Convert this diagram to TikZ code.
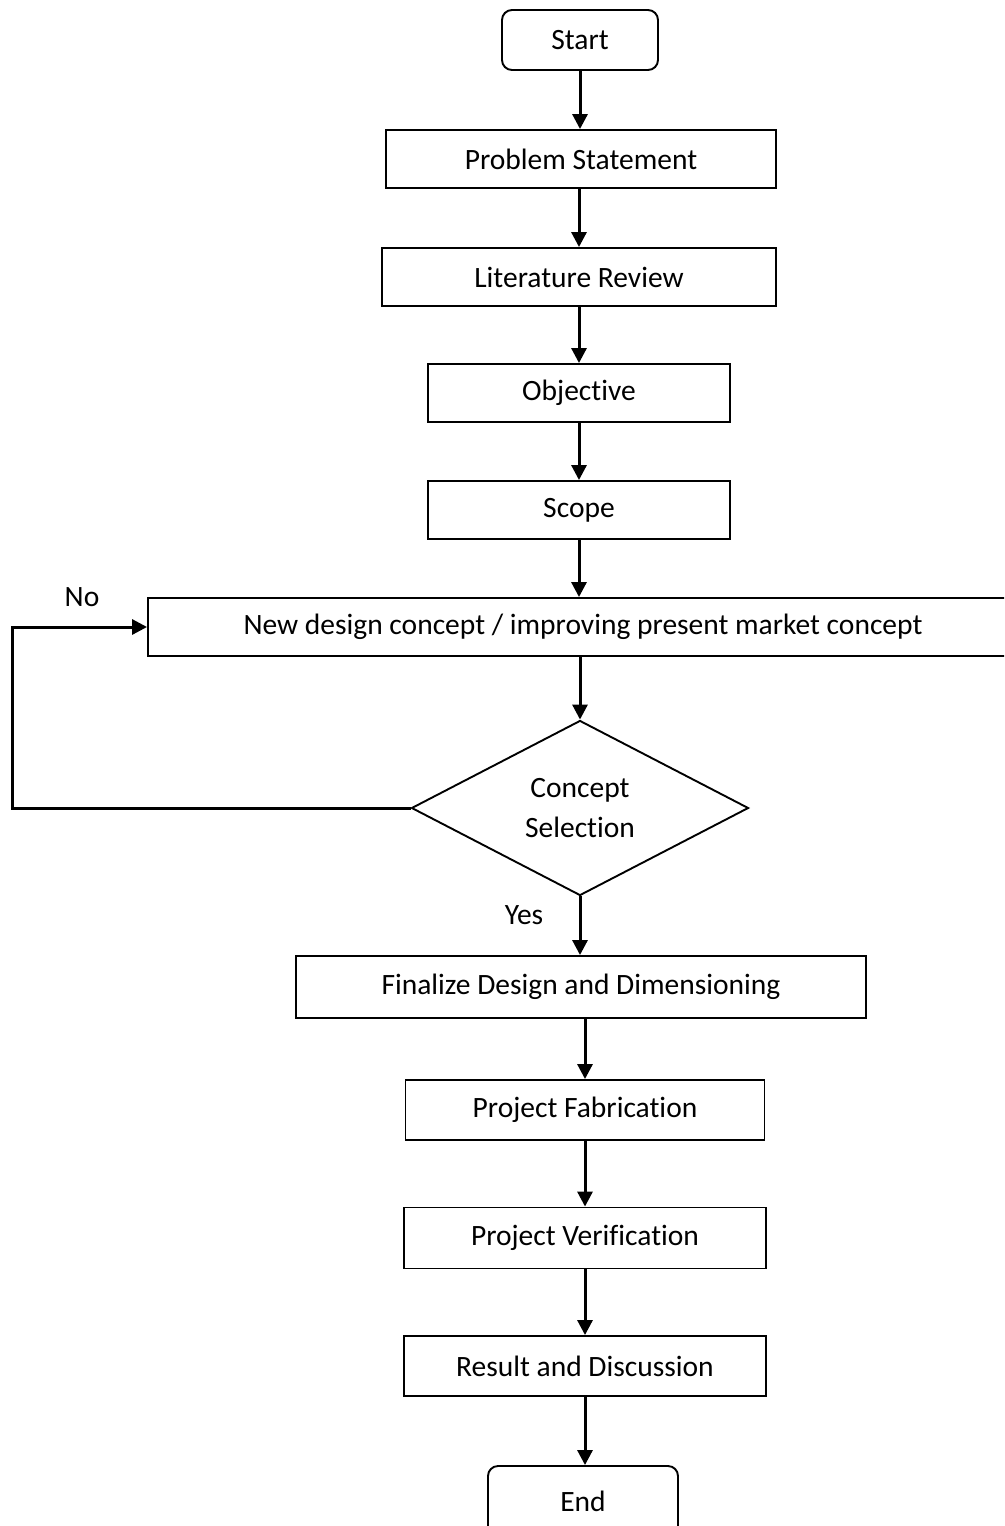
\documentclass[tikz,border=0pt]{standalone}
\usepackage{fontspec}
\setmainfont{Carlito}[Ligatures=NoCommon]
\usetikzlibrary{shapes.geometric,arrows.meta}

\begin{document}
\begin{tikzpicture}[x=1pt,y=-1pt,
  every node/.style={font=\fontsize{29.5}{40}\selectfont},
  box/.style={draw,line width=1.9pt,minimum height=58pt,inner sep=0pt},
  term/.style={box,rounded corners=10pt},
  decide/.style={draw,line width=1.9pt,diamond,aspect=1.93,minimum width=337pt,
    minimum height=175pt,inner sep=0pt,align=center},
  flow/.style={line width=3pt,-{Triangle[length=15pt,width=15pt]}}]
\useasboundingbox (0,0) rectangle (1004,1526);
\clip (0,0) rectangle (1004,1526);
% main column
\node[term,minimum width=156pt,minimum height=60pt] (start) at (580,40) {Start};
\node[box,minimum width=390pt] (prob) at (581,159) {Problem Statement};
\node[box,minimum width=394pt] (lit) at (579,277) {Literature Review};
\node[box,minimum width=302pt] (obj) at (579,393) {Objective};
\node[box,minimum width=302pt] (scope) at (579,510) {Scope};
\node[box,minimum width=870pt] (concept) at (583,627) {New design concept / improving present market concept};
\node[decide] (sel) at (580,808) {Concept\\Selection};
\node[box,minimum width=570pt,minimum height=62pt] (final) at (581,987) {Finalize Design and Dimensioning};
\node[box,minimum width=359pt,minimum height=60pt] (fab) at (585,1110) {Project Fabrication};
\node[box,minimum width=362pt,minimum height=61pt] (verif) at (585,1238) {Project Verification};
\node[box,minimum width=362pt,minimum height=60pt] (result) at (585,1366) {Result and Discussion};
\node[term,minimum width=190pt,minimum height=70pt] (end) at (583,1501) {End};
% labels
\node (no) at (82,597) {No};
\node (yes) at (524,915) {Yes};
% connectors
\draw[flow] (start.south) -- (start.south |- prob.north);
\draw[flow] (lit.north |- prob.south) -- (lit.north);
\draw[flow] (lit.south) -- (lit.south |- obj.north);
\draw[flow] (obj.south) -- (scope.north);
\draw[flow] (scope.south) -- (scope.south |- concept.north);
\draw[flow] (sel.north |- concept.south) -- (sel.north);
\draw[flow] (sel.south) -- (sel.south |- final.north);
\draw[flow] (fab.north |- final.south) -- (fab.north);
\draw[flow] (fab.south) -- (verif.north);
\draw[flow] (verif.south) -- (result.north);
\draw[flow] (result.south) -- (result.south |- end.north);
\coordinate (loop) at (12,808);
\draw[flow] (sel.west) -- (loop) |- (concept.west);
\end{tikzpicture}
\end{document}
